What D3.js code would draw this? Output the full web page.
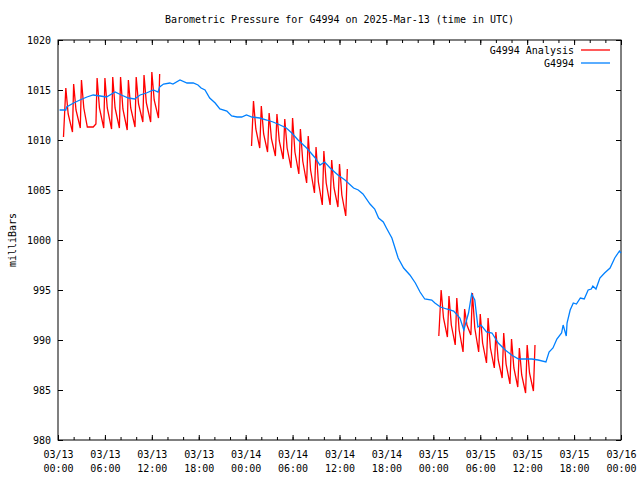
<!DOCTYPE html>
<html>
<head>
<meta charset="utf-8">
<script src="https://cdn.jsdelivr.net/npm/d3@7"></script>
<style>
  body { margin: 0; background: #fff; }
  text { font-family: "DejaVu Sans Mono", monospace; font-size: 10px; fill: #000; }
</style>
</head>
<body>
<svg id="chart" width="640" height="480"></svg>
<script>
// Time values are hours after 2025-03-13 00:00 UTC, pressures in mBar
const startUtc = Date.UTC(2025, 2, 13, 0, 0);

// G4994 Analysis, one block per day
const analysisMar13 = [
  [0.7, 1010.3],
  [1, 1015.2], [1.3, 1012.6], [1.85, 1010.8],
  [2, 1015.6], [2.3, 1013.0], [2.85, 1011.2],
  [3, 1016.0], [3.3, 1013.2], [3.75, 1011.3], [4.5, 1011.3], [4.85, 1011.6],
  [5, 1016.2], [5.3, 1013.2], [5.85, 1011.2],
  [6, 1016.2], [6.3, 1013.2], [6.85, 1011.1],
  [7, 1016.3], [7.3, 1013.2], [7.85, 1011.2],
  [8, 1016.3], [8.3, 1013.1], [8.85, 1011.0],
  [9, 1016.0], [9.3, 1013.2], [9.85, 1011.3],
  [10, 1016.3], [10.3, 1013.6], [10.85, 1011.8],
  [11, 1016.5], [11.3, 1013.7], [11.85, 1011.8],
  [12, 1016.8], [12.3, 1014.0], [12.85, 1012.2],
  [13, 1016.6]
];
const analysisMar14 = [
  [24.75, 1009.4],
  [25, 1013.9], [25.3, 1011.1], [25.8, 1009.2],
  [26, 1013.4], [26.3, 1010.6], [26.8, 1008.8],
  [27, 1012.7], [27.3, 1010.1], [27.8, 1008.4],
  [28, 1012.6], [28.3, 1009.9], [28.8, 1008.1],
  [29, 1012.1], [29.3, 1009.2], [29.8, 1007.2],
  [30, 1012.2], [30.3, 1008.8], [30.8, 1006.6],
  [31, 1011.1], [31.3, 1007.9], [31.8, 1005.7],
  [32, 1010.4], [32.3, 1007.0], [32.8, 1004.7],
  [33, 1009.3], [33.3, 1005.8], [33.8, 1003.5],
  [34, 1008.9], [34.3, 1005.7], [34.8, 1003.5],
  [35, 1008.0], [35.3, 1005.2], [35.8, 1003.3],
  [36, 1007.6], [36.3, 1004.5], [36.8, 1002.4],
  [37, 1007.1]
];
const analysisMar15 = [
  [48.7, 990.4],
  [49, 995.0], [49.3, 992.2], [49.8, 990.3],
  [50, 994.4], [50.3, 991.5], [50.8, 989.5],
  [51, 994.2], [51.3, 991.0], [51.8, 988.8],
  [52, 993.1], [52.3, 991.5], [52.8, 990.5],
  [53, 994.7], [53.3, 991.2], [53.8, 988.8],
  [54, 992.6], [54.3, 989.7], [54.8, 987.7],
  [55, 992.2], [55.3, 989.2], [55.8, 987.2],
  [56, 990.8], [56.3, 988.0], [56.8, 986.2],
  [57, 990.7], [57.3, 987.6], [57.8, 985.6],
  [58, 990.1], [58.3, 987.2], [58.8, 985.3],
  [59, 989.2], [59.3, 986.5], [59.8, 984.7],
  [60, 989.5], [60.3, 986.7], [60.8, 984.9],
  [61, 989.5]
];

// G4994 observations
const observed = [
  [0.2, 1013.0], [1.0, 1013.0], [1.1, 1013.3], [2.0, 1013.7], [2.8, 1014.0],
  [3.7, 1014.3], [4.5, 1014.5], [5.4, 1014.4], [6.2, 1014.3], [7.3, 1014.8],
  [8.1, 1014.5], [9.0, 1014.2], [9.8, 1014.1], [10.5, 1014.5], [11.3, 1014.7],
  [12.2, 1015.0], [12.8, 1014.8], [13.0, 1015.3], [13.5, 1015.6], [14.3, 1015.7],
  [14.7, 1015.6], [15.6, 1016.0], [16.5, 1015.7], [17.3, 1015.7], [17.9, 1015.5],
  [18.3, 1015.2], [18.8, 1015.0], [19.4, 1014.2], [20.1, 1013.7], [20.7, 1013.1],
  [21.6, 1012.9], [22.2, 1012.4], [22.9, 1012.3], [23.5, 1012.3], [24.1, 1012.5],
  [24.8, 1012.3], [25.8, 1012.2], [26.7, 1012.0], [27.5, 1011.8], [28.4, 1011.5],
  [29.2, 1011.2], [29.9, 1010.7], [30.7, 1010.0], [31.8, 1009.2], [32.9, 1008.2],
  [33.5, 1007.5], [34.1, 1007.8], [34.8, 1007.2], [35.8, 1006.5], [36.7, 1006.0],
  [37.8, 1005.2], [38.4, 1005.0], [39.0, 1004.6], [39.9, 1003.6], [40.5, 1003.1],
  [41.0, 1002.2], [41.6, 1001.8], [42.0, 1001.2], [42.7, 1000.2], [43.1, 999.2],
  [43.5, 998.2], [44.2, 997.2], [45.0, 996.5], [45.7, 995.7], [46.3, 994.8],
  [46.9, 994.1], [47.8, 994.0], [48.2, 993.7], [48.9, 993.3], [49.7, 993.1],
  [50.6, 992.9], [51.4, 992.2], [51.9, 991.0], [52.5, 992.7], [52.9, 994.6],
  [53.3, 994.0], [53.7, 991.3], [54.1, 991.5], [54.8, 990.8], [55.5, 990.7],
  [56.3, 989.7], [57.2, 989.0], [58.0, 988.5], [58.9, 988.1], [59.7, 988.1],
  [60.6, 988.1], [61.4, 988.0], [62.4, 987.8], [62.8, 988.8], [63.3, 989.2],
  [63.8, 990.1], [64.4, 990.7], [64.6, 991.5], [65.0, 990.4], [65.1, 991.7],
  [65.5, 993.0], [65.9, 993.7], [66.3, 993.6], [66.8, 994.2], [67.3, 994.1],
  [67.8, 995.0], [68.2, 995.1], [68.4, 995.4], [68.8, 995.1], [69.3, 996.2],
  [69.9, 996.7], [70.6, 997.2], [71.2, 998.2], [71.8, 998.9], [72.0, 998.7]
];

// Axis ticks
const xMajorHours = d3.range(0, 73, 6);
const xMinorHours = d3.range(0, 73, 2);
const yTicks = [980, 985, 990, 995, 1000, 1005, 1010, 1015, 1020];

const titleText = "Barometric Pressure for G4994 on 2025-Mar-13 (time in UTC)";
const yLabel = "milliBars";
const analysisName = "G4994 Analysis";
const observedName = "G4994";

const RED = "#ff0000";
const BLUE = "#0080ff";

const margin = { top: 40, right: 19, bottom: 40, left: 58 };
const width = 640 - margin.left - margin.right;
const height = 480 - margin.top - margin.bottom;

const toDate = (h) => new Date(startUtc + h * 3600 * 1000);

const svg = d3.select("#chart");
svg.append("rect").attr("width", 640).attr("height", 480).attr("fill", "#fff");

const x = d3
  .scaleUtc()
  .domain([toDate(0), toDate(72)])
  .range([0, width]);
const y = d3.scaleLinear().domain([980, 1020]).range([height, 0]);

const g = svg
  .append("g")
  .attr("transform", `translate(${margin.left}, ${margin.top})`);

// Minor x ticks (bottom and top)
const minorBottom = d3
  .axisBottom(x)
  .tickValues(xMinorHours.map(toDate))
  .tickSize(-3)
  .tickFormat("");
const minorTop = d3
  .axisTop(x)
  .tickValues(xMinorHours.map(toDate))
  .tickSize(-3)
  .tickFormat("");
g.append("g").attr("transform", `translate(0, ${height})`).call(minorBottom);
g.append("g").call(minorTop);

// Major x ticks with two-line labels
const fmtDay = d3.utcFormat("%m/%d");
const fmtTime = d3.utcFormat("%H:%M");
const xAxis = d3
  .axisBottom(x)
  .tickValues(xMajorHours.map(toDate))
  .tickSize(-5)
  .tickFormat("");
const xAxisG = g
  .append("g")
  .attr("transform", `translate(0, ${height})`)
  .call(xAxis);
xAxisG
  .selectAll(".tick")
  .append("text")
  .attr("text-anchor", "middle")
  .attr("y", 18)
  .text((d) => fmtDay(d));
xAxisG
  .selectAll(".tick")
  .append("text")
  .attr("text-anchor", "middle")
  .attr("y", 32)
  .text((d) => fmtTime(d));
g.append("g")
  .call(d3.axisTop(x).tickValues(xMajorHours.map(toDate)).tickSize(-5).tickFormat(""));

// Y ticks (left with labels, mirrored on the right)
const yAxisG = g
  .append("g")
  .call(
    d3
      .axisLeft(y)
      .tickValues(yTicks)
      .tickSize(-5)
      .tickPadding(7)
      .tickFormat(d3.format("d"))
  );
yAxisG.selectAll("text").attr("font-size", null).attr("font-family", null);
g.append("g")
  .attr("transform", `translate(${width}, 0)`)
  .call(d3.axisRight(y).tickValues(yTicks).tickSize(-5).tickFormat(""));

g.selectAll(".domain").remove();
g.selectAll(".tick line").attr("stroke", "#000");
svg.selectAll(".tick text").style("font-size", "10px").attr("fill", "#000");

// Border
g.append("rect")
  .attr("width", width)
  .attr("height", height)
  .attr("fill", "none")
  .attr("stroke", "#000")
  .attr("stroke-width", 1);

// Lines
const line = d3
  .line()
  .x((d) => x(toDate(d[0])))
  .y((d) => y(d[1]));

[analysisMar13, analysisMar14, analysisMar15].forEach((seg) => {
  g.append("path")
    .datum(seg)
    .attr("fill", "none")
    .attr("stroke", RED)
    .attr("stroke-width", 1.3)
    .attr("d", line);
});

g.append("path")
  .datum(observed)
  .attr("fill", "none")
  .attr("stroke", BLUE)
  .attr("stroke-width", 1.3)
  .attr("d", line);

// Title and axis label
svg.append("text")
  .attr("x", margin.left + width / 2)
  .attr("y", 23)
  .attr("text-anchor", "middle")
  .text(titleText);

svg.append("text")
  .attr("transform", `translate(12, ${margin.top + height / 2}) rotate(-90)`)
  .attr("text-anchor", "middle")
  .attr("dy", "0.35em")
  .text(yLabel);

// Legend
const legend = svg.append("g");
[
  { name: analysisName, color: RED, y: 50 },
  { name: observedName, color: BLUE, y: 63 }
].forEach((item) => {
  legend.append("text")
    .attr("x", 574)
    .attr("y", item.y)
    .attr("dy", "0.35em")
    .attr("text-anchor", "end")
    .text(item.name);
  legend.append("line")
    .attr("x1", 581)
    .attr("x2", 610)
    .attr("y1", item.y)
    .attr("y2", item.y)
    .attr("stroke", item.color)
    .attr("stroke-width", 1.3);
});
</script>
</body>
</html>
